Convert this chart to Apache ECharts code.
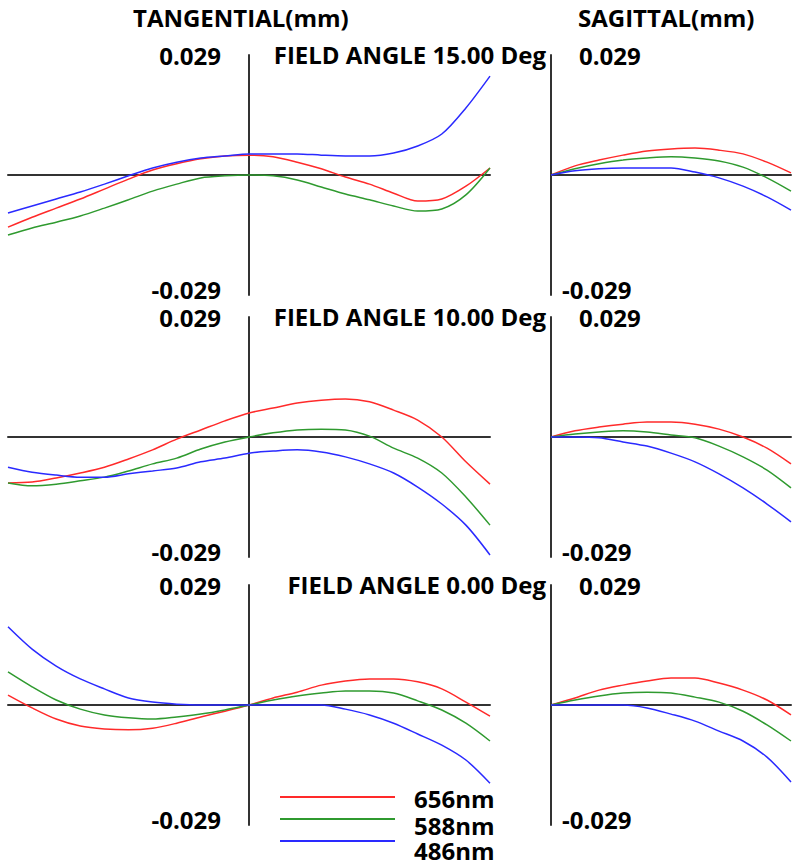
<!DOCTYPE html>
<html>
<head>
<meta charset="utf-8">
<script src="https://cdn.jsdelivr.net/npm/echarts@6/dist/echarts.min.js"></script>
<style>
html,body{margin:0;padding:0;background:#fff;}
#chart{width:800px;height:865px;}
</style>
</head>
<body>
<div id="chart"></div>
<script>
// ---- data (ray aberration, mm) ----
const wavelengths = ['656nm', '588nm', '486nm'];
const colors = ['#ff2a2a', '#2f9a2f', '#2a2aff'];
const fieldTitles = ['FIELD ANGLE 15.00 Deg', 'FIELD ANGLE 10.00 Deg', 'FIELD ANGLE 0.00 Deg'];
const yLimit = 0.029;

const pupilT = [-1, -0.9, -0.8, -0.7, -0.6, -0.5, -0.4, -0.3, -0.2, -0.1, 0, 0.1, 0.2, 0.3, 0.4, 0.5, 0.6, 0.7, 0.8, 0.9, 1];
const pupilS = [0, 0.1, 0.2, 0.3, 0.4, 0.5, 0.6, 0.7, 0.8, 0.9, 1];

// 15 deg tangential
const t15_656 = [-0.0126, -0.0102, -0.0080, -0.0058, -0.0034, -0.0010, 0.0012, 0.0027, 0.0039, 0.0046, 0.0048, 0.0044, 0.0031, 0.0015, -0.0005, -0.0022, -0.0044, -0.0063, -0.0058, -0.0027, 0.0017];
const t15_588 = [-0.0145, -0.0128, -0.0114, -0.0099, -0.0080, -0.0060, -0.0039, -0.0022, -0.0007, -0.0002, 0, -0.0002, -0.0012, -0.0029, -0.0046, -0.0060, -0.0075, -0.0087, -0.0082, -0.0048, 0.0017];
const t15_486 = [-0.0092, -0.0075, -0.0058, -0.0041, -0.0022, -0.0002, 0.0017, 0.0031, 0.0041, 0.0046, 0.0051, 0.0051, 0.0051, 0.0048, 0.0046, 0.0046, 0.0053, 0.0070, 0.0099, 0.0162, 0.0239];
// 15 deg sagittal
const s15_656 = [0, 0.0022, 0.0036, 0.0048, 0.0058, 0.0063, 0.0065, 0.0060, 0.0051, 0.0031, 0.0005];
const s15_588 = [0, 0.0015, 0.0027, 0.0036, 0.0041, 0.0044, 0.0041, 0.0034, 0.0019, -0.0007, -0.0039];
const s15_486 = [0, 0.0010, 0.0015, 0.0017, 0.0017, 0.0017, 0.0007, -0.0007, -0.0027, -0.0053, -0.0085];

// 10 deg tangential
const t10_656 = [-0.0111, -0.0109, -0.0099, -0.0087, -0.0073, -0.0053, -0.0031, -0.0005, 0.0017, 0.0039, 0.0058, 0.0070, 0.0082, 0.0089, 0.0092, 0.0085, 0.0065, 0.0041, 0, -0.0060, -0.0114];
const t10_588 = [-0.0111, -0.0118, -0.0114, -0.0106, -0.0097, -0.0082, -0.0065, -0.0051, -0.0029, -0.0012, 0, 0.0010, 0.0017, 0.0019, 0.0017, 0.0002, -0.0027, -0.0051, -0.0087, -0.0145, -0.0213];
const t10_486 = [-0.0073, -0.0085, -0.0092, -0.0097, -0.0097, -0.0089, -0.0082, -0.0075, -0.0060, -0.0051, -0.0039, -0.0034, -0.0031, -0.0036, -0.0048, -0.0065, -0.0087, -0.0121, -0.0162, -0.0213, -0.0285];
// 10 deg sagittal
const s10_656 = [0, 0.0015, 0.0024, 0.0031, 0.0036, 0.0036, 0.0031, 0.0019, 0, -0.0027, -0.0065];
const s10_588 = [0, 0.0007, 0.0012, 0.0015, 0.0012, 0.0005, -0.0002, -0.0022, -0.0048, -0.0080, -0.0123];
const s10_486 = [0, 0, -0.0002, -0.0012, -0.0022, -0.0039, -0.0060, -0.0089, -0.0123, -0.0162, -0.0205];

// 0 deg tangential
const t0_656 = [0.0024, -0.0007, -0.0034, -0.0051, -0.0058, -0.0060, -0.0056, -0.0044, -0.0029, -0.0015, 0, 0.0017, 0.0031, 0.0048, 0.0058, 0.0063, 0.0063, 0.0056, 0.0039, 0.0007, -0.0027];
const t0_588 = [0.0080, 0.0044, 0.0012, -0.0010, -0.0024, -0.0031, -0.0034, -0.0029, -0.0022, -0.0012, 0, 0.0012, 0.0022, 0.0029, 0.0034, 0.0034, 0.0029, 0.0010, -0.0012, -0.0044, -0.0087];
const t0_486 = [0.0189, 0.0135, 0.0094, 0.0063, 0.0039, 0.0017, 0.0007, 0.0002, 0, 0, 0, 0, 0, 0, -0.0010, -0.0024, -0.0044, -0.0070, -0.0097, -0.0133, -0.0189];
// 0 deg sagittal
const s0_656 = [0, 0.0017, 0.0036, 0.0048, 0.0058, 0.0065, 0.0065, 0.0053, 0.0036, 0.0012, -0.0024];
const s0_588 = [0, 0.0012, 0.0022, 0.0029, 0.0031, 0.0029, 0.0019, 0.0007, -0.0015, -0.0048, -0.0087];
const s0_486 = [0, 0, 0, 0, -0.0007, -0.0022, -0.0039, -0.0063, -0.0087, -0.0126, -0.0186];

const tangential = [[t15_656, t15_588, t15_486], [t10_656, t10_588, t10_486], [t0_656, t0_588, t0_486]];
const sagittal = [[s15_656, s15_588, s15_486], [s10_656, s10_588, s10_486], [s0_656, s0_588, s0_486]];

// ---- layout ----
const FONT = '"Open Sans", "Noto Sans CJK KR", sans-serif';
const rowTops = [55, 317, 585];
const rowH = 240;
const axisColor = '#333';
const txt = { fontFamily: FONT, fontSize: 24, fontWeight: 'bold', color: '#000' };

const grids = [], xAxes = [], yAxes = [], series = [], titles = [];

titles.push({ text: 'TANGENTIAL(mm)', left: 133, top: 5, padding: 0, textStyle: txt });
titles.push({ text: 'SAGITTAL(mm)', left: 578, top: 5, padding: 0, textStyle: txt });

const richFmt = v => Math.abs(v) < 1e-9 ? '' : (v > 0 ? '{p|' + v.toFixed(3) + '}' : '{n|' + v.toFixed(3) + '}');

rowTops.forEach((top, r) => {
  titles.push({ text: fieldTitles[r], right: 254, top: top - 13, padding: 0, textStyle: txt });

  // tangential grid
  const gi = grids.length;
  grids.push({ left: 8, top: top, width: 482, height: rowH, outerBoundsMode: 'none', containLabel: false });
  xAxes.push({ type: 'value', gridIndex: gi, min: -1, max: 1,
    axisLine: { onZero: true, lineStyle: { color: axisColor, width: 2 } },
    axisTick: { show: false }, axisLabel: { show: false }, splitLine: { show: false } });
  yAxes.push({ type: 'value', gridIndex: gi, min: -yLimit, max: yLimit, interval: yLimit,
    position: 'left', offset: -241,
    axisLine: { show: true, onZero: false, lineStyle: { color: axisColor, width: 2 } },
    axisTick: { show: false }, splitLine: { show: false },
    axisLabel: Object.assign({ margin: 28, showMinLabel: true, showMaxLabel: true, formatter: richFmt,
      rich: { p: Object.assign({ lineHeight: 24 }, txt), n: Object.assign({ lineHeight: 24, padding: [0, 0, 12, 0] }, txt) } }, txt) });
  tangential[r].forEach((vals, k) => {
    series.push({ type: 'line', name: wavelengths[k], xAxisIndex: gi, yAxisIndex: gi,
      data: pupilT.map((p, i) => [p, vals[i]]), showSymbol: false, smooth: 0.3,
      lineStyle: { color: colors[k], width: 1.5 }, itemStyle: { color: colors[k] }, z: 3 });
  });

  // sagittal grid
  const gs = grids.length;
  grids.push({ left: 551, top: top, width: 240, height: rowH, outerBoundsMode: 'none', containLabel: false });
  xAxes.push({ type: 'value', gridIndex: gs, min: 0, max: 1,
    axisLine: { onZero: true, lineStyle: { color: axisColor, width: 2 } },
    axisTick: { show: false }, axisLabel: { show: false }, splitLine: { show: false } });
  yAxes.push({ type: 'value', gridIndex: gs, min: -yLimit, max: yLimit, interval: yLimit,
    position: 'left',
    axisLine: { show: true, onZero: false, lineStyle: { color: axisColor, width: 2 } },
    axisTick: { show: false }, splitLine: { show: false },
    axisLabel: Object.assign({ inside: true, margin: 11, showMinLabel: true, showMaxLabel: true, formatter: richFmt,
      rich: {
        p: Object.assign({ lineHeight: 24, padding: [0, 0, 0, 17] }, txt),
        n: Object.assign({ lineHeight: 24, padding: [0, 0, 12, 0] }, txt)
      } }, txt) });
  sagittal[r].forEach((vals, k) => {
    series.push({ type: 'line', name: wavelengths[k], xAxisIndex: gs, yAxisIndex: gs,
      data: pupilS.map((p, i) => [p, vals[i]]), showSymbol: false, smooth: 0.3,
      lineStyle: { color: colors[k], width: 1.5 }, itemStyle: { color: colors[k] }, z: 3 });
  });
});

// legend: one component per wavelength; text nudged below its line like the reference
const legendTops = [784, 801, 820];
const legendTextShift = [2, 12, 18];
const legends = wavelengths.map((w, k) => ({
  orient: 'horizontal', left: 280, top: legendTops[k], padding: 0, itemGap: 0,
  icon: 'rect', itemWidth: 115, itemHeight: 2,
  data: [w],
  formatter: name => '{a|' + name + '}',
  textStyle: Object.assign({ padding: [0, 0, 0, 14],
    rich: { a: Object.assign({ lineHeight: 24, padding: [legendTextShift[k], 0, 0, 0] }, txt) } }, txt)
}));

const chart = echarts.init(document.getElementById('chart'), null, { renderer: 'svg' });
chart.setOption({
  backgroundColor: '#fff',
  animation: false,
  title: titles,
  legend: legends,
  grid: grids,
  xAxis: xAxes,
  yAxis: yAxes,
  series: series
});
</script>
</body>
</html>
